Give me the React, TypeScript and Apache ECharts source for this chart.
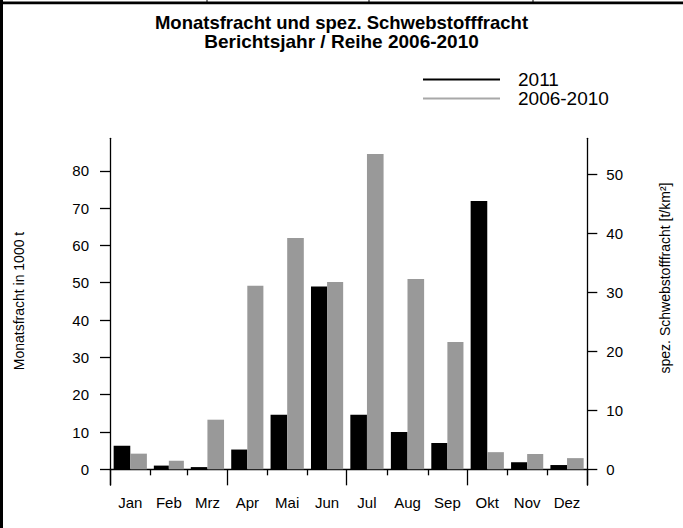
import React, { useEffect, useRef } from "react";
import * as echarts from "echarts";

const months = ["Jan", "Feb", "Mrz", "Apr", "Mai", "Jun", "Jul", "Aug", "Sep", "Okt", "Nov", "Dez"];
const monthDays = [31, 28, 31, 30, 31, 30, 31, 31, 30, 31, 30, 31];
const values2011 = [6.3, 1.0, 0.6, 5.3, 14.6, 49.0, 14.6, 10.0, 7.05, 71.9, 1.9, 1.15];
const values0610 = [4.2, 2.3, 13.3, 49.2, 62.0, 50.2, 84.5, 51.0, 34.1, 4.6, 4.1, 3.0];
const leftTicks = [0, 10, 20, 30, 40, 50, 60, 70, 80];
const rightTicks = [0, 10, 20, 30, 40, 50];
const quarterStarts = [0, 3, 6, 9, 12];
// 1000 t per t/km² (ratio of the two axes)
const unitRatio = 1.582;

const FONT = "'Liberation Sans', Arial, Helvetica, sans-serif";

export default function App() {
  const ref = useRef<HTMLDivElement>(null);
  useEffect(() => {
    if (!ref.current) return;
    const chart = echarts.init(ref.current, null, { renderer: "svg" });

    const bounds: number[] = [0];
    monthDays.forEach((d) => bounds.push(bounds[bounds.length - 1] + d));
    const mids = months.map((_, i) => (bounds[i] + bounds[i + 1]) / 2);
    const quarterBounds = quarterStarts.map((q) => bounds[q]);
    const monthBounds = bounds.filter((_, i) => quarterStarts.indexOf(i) < 0);

    const yMin = -4.2;
    const yMax = 88.7;
    const gridTop = 138.3;
    const gridBottom = 43;
    const gridHeight = 528 - gridTop - gridBottom;
    // lift the month axis up to the zero line of the value axis
    const xOffset = -((0 - yMin) / (yMax - yMin)) * gridHeight;

    const makeRender = (from: number, to: number, color: string) => (params: any, api: any) => {
      const i = api.value(0);
      const v = api.value(1);
      const s = bounds[i];
      const w = bounds[i + 1] - s;
      const p0 = api.coord([s + from * w, v]);
      const p1 = api.coord([s + to * w, 0]);
      return {
        type: "rect",
        shape: { x: p0[0], y: p0[1], width: p1[0] - p0[0], height: p1[1] - p0[1] },
        style: { fill: color },
      };
    };

    const option: any = {
      animation: false,
      backgroundColor: "#fff",
      textStyle: { fontFamily: FONT, color: "#000" },
      title: {
        text: "Monatsfracht und spez. Schwebstofffracht",
        subtext: "Berichtsjahr / Reihe 2006-2010",
        left: "center",
        top: 13,
        padding: 0,
        itemGap: 0,
        textStyle: { fontFamily: FONT, fontSize: 18.5, fontWeight: "bold", lineHeight: 19, color: "#000" },
        subtextStyle: { fontFamily: FONT, fontSize: 19, fontWeight: "bold", lineHeight: 19, color: "#000" },
      },
      legend: {
        orient: "vertical",
        left: 423,
        top: 70,
        padding: 0,
        itemGap: 0,
        itemWidth: 77,
        itemHeight: 2,
        selectedMode: false,
        textStyle: { fontFamily: FONT, fontSize: 19, lineHeight: 19, color: "#000", padding: [0, 0, 0, 13] },
        data: [
          { name: "2011", icon: "rect", itemStyle: { color: "#000" } },
          { name: "2006-2010", icon: "rect", itemStyle: { color: "#a8a8a8" } },
        ],
      },
      grid: { left: 110, right: 95.7, top: gridTop, bottom: gridBottom, outerBoundsMode: "none" },
      xAxis: [
        {
          type: "value",
          min: 0,
          max: 365,
          position: "bottom",
          offset: xOffset,
          splitLine: { show: false },
          axisLine: { show: true, onZero: false, lineStyle: { color: "#000", width: 1.3 } },
          axisTick: { show: true, length: 16, customValues: quarterBounds, lineStyle: { color: "#000", width: 1.3 } },
          axisLabel: {
            customValues: mids,
            margin: 26,
            fontSize: 15,
            color: "#000",
            fontFamily: FONT,
            formatter: (v: number) => {
              const idx = mids.findIndex((m) => Math.abs(m - v) < 0.01);
              return idx >= 0 ? months[idx] : "";
            },
          },
        },
        {
          type: "value",
          min: 0,
          max: 365,
          position: "bottom",
          offset: xOffset,
          splitLine: { show: false },
          axisLine: { show: false, onZero: false },
          axisTick: { show: true, length: 6, customValues: monthBounds, lineStyle: { color: "#000", width: 1.3 } },
          axisLabel: { show: false },
        },
      ],
      yAxis: [
        {
          type: "value",
          min: yMin,
          max: yMax,
          position: "left",
          splitLine: { show: false },
          axisLine: { show: true, onZero: false, lineStyle: { color: "#000", width: 1.3 } },
          axisTick: { show: true, length: 10, customValues: leftTicks, lineStyle: { color: "#000", width: 1.3 } },
          axisLabel: { customValues: leftTicks, margin: 21, fontSize: 15, color: "#000", fontFamily: FONT },
        },
        {
          type: "value",
          min: yMin / unitRatio,
          max: yMax / unitRatio,
          position: "right",
          splitLine: { show: false },
          axisLine: { show: true, onZero: false, lineStyle: { color: "#000", width: 1.3 } },
          axisTick: { show: true, length: 10, customValues: rightTicks, lineStyle: { color: "#000", width: 1.3 } },
          axisLabel: { customValues: rightTicks, margin: 19, fontSize: 15, color: "#000", fontFamily: FONT },
        },
      ],
      series: [
        {
          name: "2011",
          type: "custom",
          xAxisIndex: 0,
          yAxisIndex: 0,
          itemStyle: { color: "#000" },
          renderItem: makeRender(0.09, 0.5, "#000"),
          data: values2011.map((v, i) => [i, v]),
        },
        {
          name: "2006-2010",
          type: "custom",
          xAxisIndex: 0,
          yAxisIndex: 0,
          itemStyle: { color: "#999" },
          renderItem: makeRender(0.5, 0.91, "#999"),
          data: values0610.map((v, i) => [i, v]),
        },
      ],
      graphic: [
        { type: "rect", shape: { x: 0, y: 0, width: 3, height: 528 }, style: { fill: "#000" } },
        { type: "rect", shape: { x: 0, y: 1.5, width: 683, height: 2.7 }, style: { fill: "#000" } },
        { type: "line", shape: { x1: 207, y1: 0, x2: 207, y2: 2 }, style: { stroke: "#000", lineWidth: 1 } },
        { type: "line", shape: { x1: 369, y1: 0, x2: 369, y2: 2 }, style: { stroke: "#000", lineWidth: 1 } },
        { type: "line", shape: { x1: 533, y1: 0, x2: 533, y2: 2 }, style: { stroke: "#000", lineWidth: 1 } },
        {
          type: "text",
          x: 19,
          y: 301,
          rotation: Math.PI / 2,
          style: {
            text: "Monatsfracht in 1000 t",
            fontSize: 14,
            fontFamily: FONT,
            fill: "#000",
            align: "center",
            verticalAlign: "middle",
          },
        },
        {
          type: "text",
          x: 665,
          y: 278,
          rotation: Math.PI / 2,
          style: {
            text: "spez. Schwebstofffracht [t/km²]",
            fontSize: 14,
            fontFamily: FONT,
            fill: "#000",
            align: "center",
            verticalAlign: "middle",
          },
        },
      ],
    };
    chart.setOption(option);
    return () => chart.dispose();
  }, []);
  return <div ref={ref} style={{ position: "fixed", left: 0, top: 0, width: 683, height: 528 }} />;
}
